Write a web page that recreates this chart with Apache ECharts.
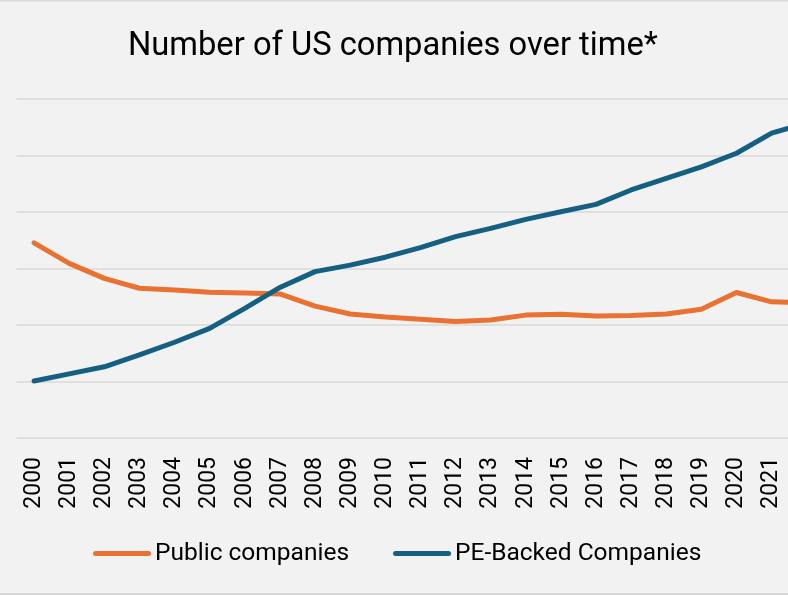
<!DOCTYPE html>
<html>
<head>
<meta charset="utf-8">
<script src="https://cdn.jsdelivr.net/npm/echarts@6/dist/echarts.min.js"></script>
<style>
html,body{margin:0;padding:0;background:#f2f2f2;}
#chart{width:788px;height:595px;}
</style>
</head>
<body>
<div id="chart"></div>
<script>
const years = ['2000','2001','2002','2003','2004','2005','2006','2007','2008','2009','2010','2011','2012','2013','2014','2015','2016','2017','2018','2019','2020','2021','2022'];
const publicCompanies = [6910, 6180, 5650, 5300, 5240, 5160, 5130, 5100, 4670, 4390, 4280, 4200, 4120, 4180, 4350, 4380, 4320, 4340, 4390, 4560, 5150, 4820, 4780];
const peBacked = [2020, 2270, 2520, 2940, 3390, 3880, 4590, 5330, 5890, 6120, 6400, 6740, 7130, 7420, 7740, 8010, 8270, 8780, 9190, 9600, 10080, 10790, 11150];
const seriesNames = ['Public companies', 'PE-Backed Companies'];
const titleText = 'Number of US companies over time*';

const chart = echarts.init(document.getElementById('chart'));
const pill = 'path://M2.5,0 L55.5,0 A2.5,2.5 0 0 1 55.5,5 L2.5,5 A2.5,2.5 0 0 1 2.5,0 Z';
chart.setOption({
  backgroundColor: '#f2f2f2',
  animation: false,
  title: {
    text: titleText,
    left: 128,
    top: 30,
    padding: 0,
    textStyle: {fontFamily: 'Roboto', fontSize: 32.7, fontWeight: 'normal', color: '#000'}
  },
  legend: {
    data: seriesNames,
    left: 93,
    top: 541,
    padding: 0,
    itemWidth: 58,
    itemHeight: 5,
    itemGap: 44,
    icon: pill,
    textStyle: {fontFamily: 'Roboto', fontSize: 24.5, color: '#000', padding: [0,0,0,-1]}
  },
  grid: {left: 16.5, top: 99, width: 807.8, height: 339, containLabel: false, outerBoundsMode: 'none'},
  xAxis: {
    type: 'category',
    data: years,
    boundaryGap: true,
    axisLine: {show: false},
    axisTick: {show: false},
    axisLabel: {rotate: 90, margin: 19, fontFamily: 'Roboto', fontSize: 23, color: '#000', interval: 0}
  },
  yAxis: {
    type: 'value',
    min: 0, max: 12000, interval: 2000,
    axisLabel: {show: false},
    axisLine: {show: false},
    axisTick: {show: false},
    splitLine: {lineStyle: {color: '#d9d9d9', width: 1.6}}
  },
  graphic: [
    {type: 'rect', shape: {x: 0, y: 0, width: 788, height: 1.5}, style: {fill: '#d9d9d9'}, silent: true},
    {type: 'rect', shape: {x: 0, y: 593, width: 788, height: 2}, style: {fill: '#d9d9d9'}, silent: true}
  ],
  series: [
    {name: seriesNames[0], type: 'line', data: publicCompanies, symbol: 'none', color: '#E97132',
     lineStyle: {width: 5, color: '#E97132', cap: 'round', join: 'round'}},
    {name: seriesNames[1], type: 'line', data: peBacked, symbol: 'none', color: '#156082',
     lineStyle: {width: 5, color: '#156082', cap: 'round', join: 'round'}}
  ]
});
</script>
</body>
</html>
